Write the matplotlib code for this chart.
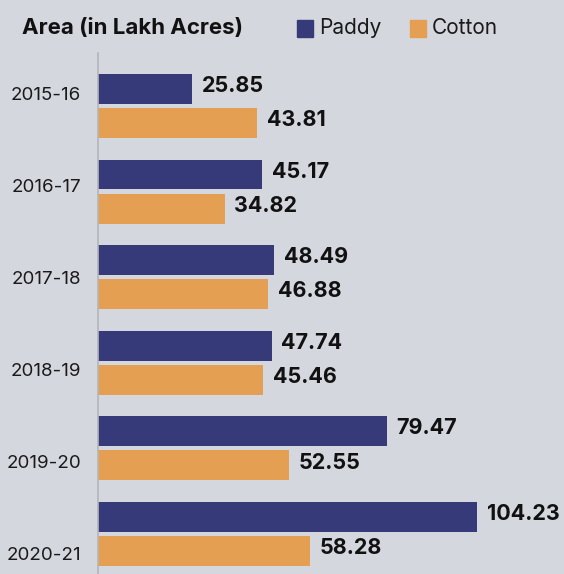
import matplotlib.pyplot as plt
import numpy as np

years = ["2015-16", "2016-17", "2017-18", "2018-19", "2019-20", "2020-21"]
paddy = [25.85, 45.17, 48.49, 47.74, 79.47, 104.23]
cotton = [43.81, 34.82, 46.88, 45.46, 52.55, 58.28]

BG = "#d4d7de"
NAVY = "#363a78"
ORANGE = "#e49f52"

plt.rcParams["font.family"] = ["Inter", "DejaVu Sans"]

fig = plt.figure(figsize=(5.64, 5.74), dpi=100, facecolor=BG)
ax = fig.add_axes([98 / 564, 0, 466 / 564, 521 / 574])
ax.set_facecolor(BG)

idx = np.arange(len(years))
h = 0.35
ax.barh(idx - 0.2, paddy, height=h, color=NAVY)
ax.barh(idx + 0.2, cotton, height=h, color=ORANGE)

for i in idx:
    ax.annotate(f"{paddy[i]:.2f}", (paddy[i], i - 0.2), xytext=(7, 2),
                textcoords="offset points", va="center", ha="left",
                fontsize=15.5, fontweight="bold", color="#111111")
    ax.annotate(f"{cotton[i]:.2f}", (cotton[i], i + 0.2), xytext=(7, 2),
                textcoords="offset points", va="center", ha="left",
                fontsize=15.5, fontweight="bold", color="#111111")

ax.set_xlim(0, 128.2)
ax.set_ylim(5.47, -0.62)

# year labels sit on a slightly wider pitch than the bar groups
ax.set_yticks(-0.148 + idx * 1.076)
ax.set_yticklabels(years, fontsize=13.5, color="#1a1a1a")
ax.tick_params(axis="y", length=0, pad=12)
ax.set_xticks([])

for side in ["top", "right", "bottom"]:
    ax.spines[side].set_visible(False)
ax.spines["left"].set_color("#b3b5ba")
ax.spines["left"].set_linewidth(1.2)

fig.text(22 / 564, 1 - 28 / 574, "Area (in Lakh Acres)", fontsize=16,
         fontweight="bold", va="center", ha="left", color="#111111")

# legend swatches
for x0, label, col in [(297, "Paddy", NAVY), (410, "Cotton", ORANGE)]:
    fig.patches.append(plt.Rectangle((x0 / 564, 1 - 37 / 574), 16 / 564, 17 / 574,
                                     transform=fig.transFigure, color=col))
    fig.text((x0 + 22) / 564, 1 - 28 / 574, label, fontsize=15,
             va="center", ha="left", color="#1a1a1a")

fig.savefig("out.png", dpi=100, facecolor=BG)
